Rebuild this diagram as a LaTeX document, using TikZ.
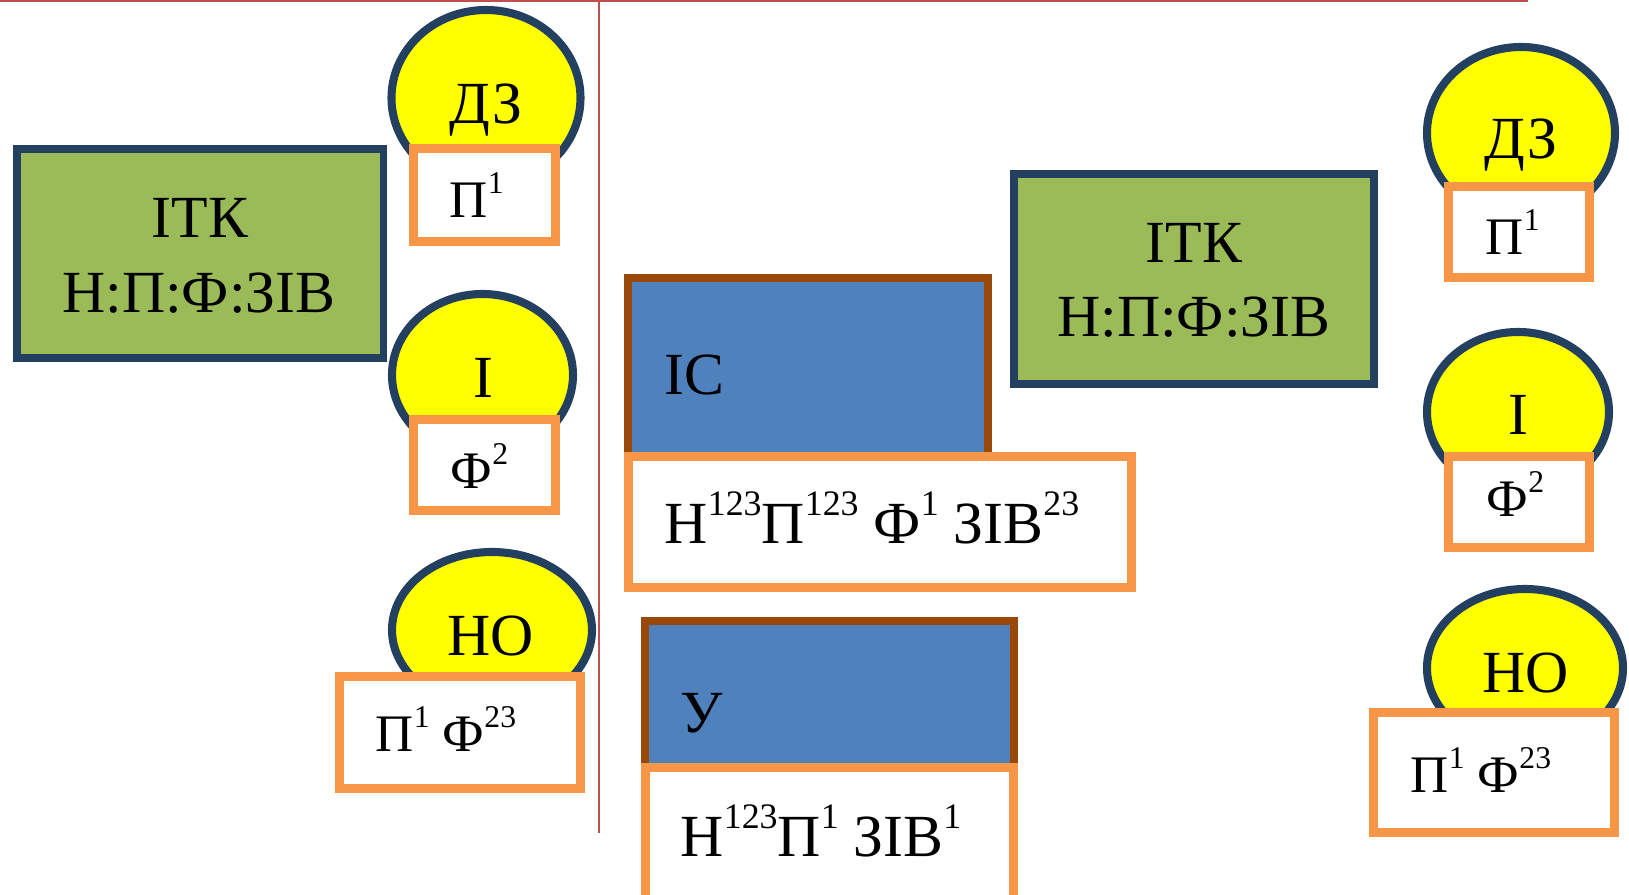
\documentclass[tikz,border=0pt]{standalone}
\usepackage{fontspec}
\setmainfont{Liberation Serif}
\usepackage{graphicx}
\usepackage{tikz}

\definecolor{navy}{RGB}{36,64,97}
\definecolor{itkgreen}{RGB}{155,187,89}
\definecolor{sunyellow}{RGB}{255,255,0}
\definecolor{slotorange}{RGB}{247,150,70}
\definecolor{isblue}{RGB}{79,129,189}
\definecolor{isbrown}{RGB}{152,72,7}
\definecolor{axisred}{RGB}{192,80,77}

\newcommand{\idx}[1]{\raisebox{0.47em}{\scalebox{0.6}{#1}}}
\newcommand{\bigtext}{\fontsize{17pt}{20pt}\selectfont}
\newcommand{\smalltext}{\fontsize{15pt}{18pt}\selectfont}

\begin{document}
\begin{tikzpicture}[x=0.01cm, y=-0.01cm,
  bubble/.style={fill=sunyellow, draw=navy, line width=2.3pt},
  slot/.style={fill=white, draw=slotorange, line width=2.56pt},
  itk/.style={fill=itkgreen, draw=navy, line width=2.2pt},
  part/.style={fill=isblue, draw=isbrown, line width=2.4pt},
  big/.style={font=\bigtext, inner sep=0pt},
  small/.style={font=\smalltext, inner sep=0pt}]
\useasboundingbox (0,0) rectangle (1629,895);
\clip (0,0) rectangle (1629,895);
\draw [axisred, line width=0.75pt] (0,1) -- (1528,1);
\draw [axisred, line width=0.75pt] (599,0) -- (599,833);

\filldraw [itk] (17,149) rectangle (383.5,358);
\filldraw [itk] (1014,174) rectangle (1374,384);

\filldraw [bubble] (486,98) ellipse [x radius=94.5, y radius=88];
\filldraw [bubble] (482.5,375) ellipse [x radius=90.5, y radius=81];
\filldraw [bubble] (492,630) ellipse [x radius=100, y radius=78];
\filldraw [bubble] (1521,133) ellipse [x radius=94, y radius=86];
\filldraw [bubble] (1518,412) ellipse [x radius=91, y radius=80];
\filldraw [bubble] (1525,668) ellipse [x radius=98, y radius=79];

\filldraw [slot] (413.5,148.5) rectangle (555.5,241.5);
\filldraw [slot] (413.5,419.5) rectangle (555.5,510.5);
\filldraw [slot] (339.5,676.5) rectangle (580.5,788.5);
\filldraw [slot] (1448.5,186.5) rectangle (1589.5,277.5);
\filldraw [slot] (1448.5,456.5) rectangle (1589.5,547.5);
\filldraw [slot] (1373.5,712.5) rectangle (1614.5,832.5);

\filldraw [part] (628,278) rectangle (988,470);
\filldraw [slot] (628.5,456.5) rectangle (1131.5,587.5);
\filldraw [part] (645,621) rectangle (1014,775);
\filldraw [slot] (645.5,767.5) rectangle (1013.5,910);

\node [big, anchor=base] (itkL) at (200,238) {ІТК};
\node [big, anchor=base] (ratioL) at (199,313) {Н:П:Ф:ЗІВ};
\node [big, anchor=base] (dzL) at (486,124) {ДЗ};
\node [small, anchor=base west] (dzLslot) at (449,218) {П\idx{1}};
\node [big, anchor=base] (iL) at (483,398) {І};
\node [small, anchor=base west] (iLslot) at (450,489) {Ф\idx{2}};
\node [big, anchor=base] (noL) at (491,656) {НО};
\node [small, anchor=base west] (noLslot) at (375,752) {П\idx{1} Ф\idx{23}};

\node [big, anchor=base] (itkR) at (1194,263) {ІТК};
\node [big, anchor=base] (ratioR) at (1194,337) {Н:П:Ф:ЗІВ};
\node [big, anchor=base] (dzR) at (1521,159) {ДЗ};
\node [small, anchor=base west] (dzRslot) at (1485,255) {П\idx{1}};
\node [big, anchor=base] (iR) at (1518,435) {І};
\node [small, anchor=base west] (iRslot) at (1486,517) {Ф\idx{2}};
\node [big, anchor=base] (noR) at (1526,693) {НО};
\node [small, anchor=base west] (noRslot) at (1410,793) {П\idx{1} Ф\idx{23}};

\node [big, anchor=base west] (is) at (664,395) {ІС};
\node [big, anchor=base west] (isslot) at (664,544) {Н\idx{123}П\idx{123} Ф\idx{1} ЗІВ\idx{23}};
\node [big, anchor=base west] (u) at (680,733) {У};
\node [big, anchor=base west] (uslot) at (680,857) {Н\idx{123}П\idx{1} ЗІВ\idx{1}};
\end{tikzpicture}
\end{document}
